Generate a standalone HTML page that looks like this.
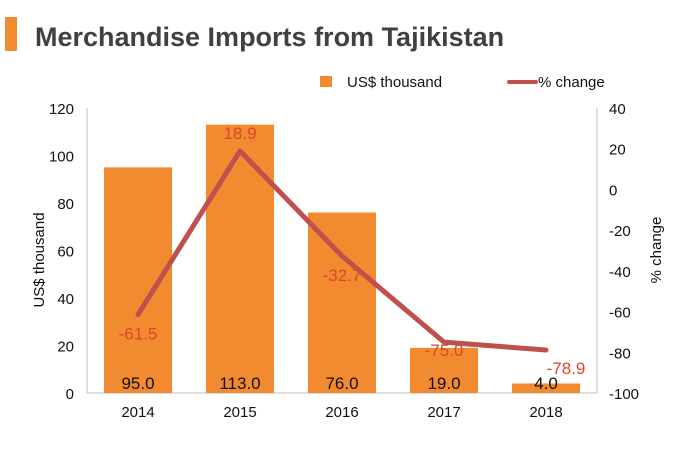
<!DOCTYPE html>
<html><head><meta charset="utf-8"><style>
body{margin:0;background:#fff;font-family:"Liberation Sans",Arial,sans-serif;}
svg{display:block}
</style></head><body>
<svg width="679" height="456" xmlns="http://www.w3.org/2000/svg" font-family="Liberation Sans, Arial, sans-serif">
<rect x="5" y="17" width="12" height="34" fill="#f28a30"/>
<text x="35" y="46" font-size="27" font-weight="bold" fill="#404040">Merchandise Imports from Tajikistan</text>
<g>
<rect x="320" y="76" width="12" height="11" fill="#f28a30"/>
<text x="347" y="87" font-size="15" fill="#111">US$ thousand</text>
<line x1="509" y1="82" x2="536" y2="82" stroke="#c0504d" stroke-width="4" stroke-linecap="round"/>
<text x="538" y="87" font-size="15" fill="#111">% change</text>
</g>
<g id="axes"></g>
<g id="bars"></g>
<g id="line"></g>
<text transform="translate(44,260) rotate(-90)" text-anchor="middle" font-size="15" fill="#111">US$ thousand</text>
<text transform="translate(661,250) rotate(-90)" text-anchor="middle" font-size="15" fill="#111">% change</text>
</svg>
<script>
const categories=["2014","2015","2016","2017","2018"];
const imports=[95.0,113.0,76.0,19.0,4.0];
const pctChange=[-61.5,18.9,-32.7,-75.0,-78.9];
const leftTicks=[0,20,40,60,80,100,120];
const rightTicks=[-100,-80,-60,-40,-20,0,20,40];
const NS="http://www.w3.org/2000/svg";
const X0=87,X1=597,Y0=393,Y1=108;
const band=(X1-X0)/categories.length;
const xC=i=>X0+band*(i+0.5);
const yL=v=>Y0-(v-0)/(120-0)*(Y0-Y1);
const yR=v=>Y0-(v+100)/(140)*(Y0-Y1);
function mk(t,a,p){const e=document.createElementNS(NS,t);for(const k in a)e.setAttribute(k,a[k]);p.appendChild(e);return e;}
const ax=document.getElementById('axes'),bg=document.getElementById('bars'),lg=document.getElementById('line');
let e=mk('line',{x1:X0,y1:Y1,x2:X0,y2:Y0,stroke:'#bfbfbf'},ax);


e=mk('line',{x1:X1,y1:Y1,x2:X1,y2:Y0,stroke:'#bfbfbf'},ax);


e=mk('line',{x1:X0,y1:Y0,x2:X1,y2:Y0,stroke:'#bfbfbf'},ax);


leftTicks.forEach(v=>{const t=mk('text',{x:74,y:yL(v)+6,'text-anchor':'end','font-size':15,fill:'#111'},ax);t.textContent=v;

});
rightTicks.forEach(v=>{const t=mk('text',{x:609,y:yR(v)+6,'font-size':15,fill:'#111'},ax);t.textContent=v;

});
categories.forEach((c,i)=>{const t=mk('text',{x:xC(i),y:417,'text-anchor':'middle','font-size':15,fill:'#111'},ax);t.textContent=c;

});
const bw=68;
imports.forEach((v,i)=>{const r=mk('rect',{x:xC(i)-bw/2,y:yL(v),width:bw,height:Y0-yL(v),fill:'#f28a30'},bg);


const t=mk('text',{x:xC(i),y:389,'text-anchor':'middle','font-size':17,fill:'#111'},bg);t.textContent=v.toFixed(1);

});
const pts=pctChange.map((v,i)=>xC(i)+','+yR(v)).join(' ');
const pl=mk('polyline',{points:pts,fill:'none',stroke:'#c0504d','stroke-width':5,'stroke-linejoin':'round','stroke-linecap':'round'},lg);


const off=[[0,25],[0,-12],[0,25],[0,14],[20,24]];
pctChange.forEach((v,i)=>{const t=mk('text',{x:xC(i)+off[i][0],y:yR(v)+off[i][1],'text-anchor':'middle','font-size':17,fill:'#d9472b'},lg);t.textContent=v.toFixed(1);

});
</script>
</body></html>
